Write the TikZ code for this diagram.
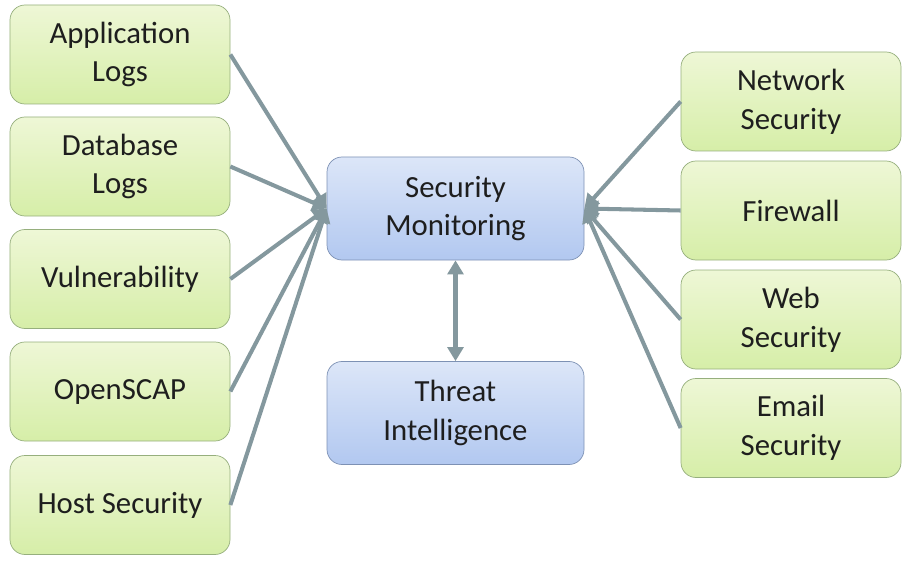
\documentclass[tikz,border=0pt]{standalone}
\usepackage{fontspec}
\setmainfont{Carlito}
\usepackage{xcolor}
\usetikzlibrary{positioning,calc,arrows.meta,shadows}

\definecolor{srctop}{RGB}{238,247,214}
\definecolor{srcbot}{RGB}{214,238,168}
\definecolor{srcline}{RGB}{150,175,125}
\definecolor{hubtop}{RGB}{220,230,248}
\definecolor{hubbot}{RGB}{178,200,240}
\definecolor{hubline}{RGB}{125,145,180}
\definecolor{feedcol}{RGB}{132,152,158}
\definecolor{txtcol}{RGB}{30,30,30}

\tikzset{
    srcbox/.style={draw=srcline, rounded corners=0.3cm, top color=srctop, bottom color=srcbot,
        minimum width=4.4cm, minimum height=1.98cm, align=center, text=txtcol,
        font=\fontsize{17.5}{22}\selectfont, inner sep=2pt},
    hubbox/.style={srcbox, draw=hubline, top color=hubtop, bottom color=hubbot,
        minimum width=5.14cm, minimum height=2.06cm},
    feed/.style={draw=feedcol, line width=2.3pt, -{Triangle[length=8pt,width=9pt]}},
}

\begin{document}
\begin{tikzpicture}
    \useasboundingbox (0,0) rectangle (18.18,-11.26);

    % Hub
    \node[hubbox] (mon) at (9.11,-4.17) {Security\\Monitoring};
    \node[hubbox] (ti) at (9.11,-8.26) {Threat\\Intelligence};
    \draw[feed, {Triangle[length=8pt,width=9pt]}-{Triangle[length=8pt,width=9pt]}] (mon) -- (ti);

    % Left sources
    \foreach \y/\n/\t in {-1.09/app/Application\\Logs, -3.33/db/Database\\Logs,
                          -5.58/vul/Vulnerability, -7.83/scap/OpenSCAP,
                          -10.1/host/Host Security} {
        \node[srcbox] (\n) at (2.4,\y) {\t};
        \draw[feed] (\n.east) -- (mon.west);
    }

    % Right sources
    \foreach \y/\n/\t in {-2.03/net/Network\\Security, -4.21/fw/Firewall,
                          -6.39/web/Web\\Security, -8.56/mail/Email\\Security} {
        \node[srcbox] (\n) at (15.82,\y) {\t};
        \draw[feed] (\n.west) -- (mon.east);
    }
\end{tikzpicture}
\end{document}
